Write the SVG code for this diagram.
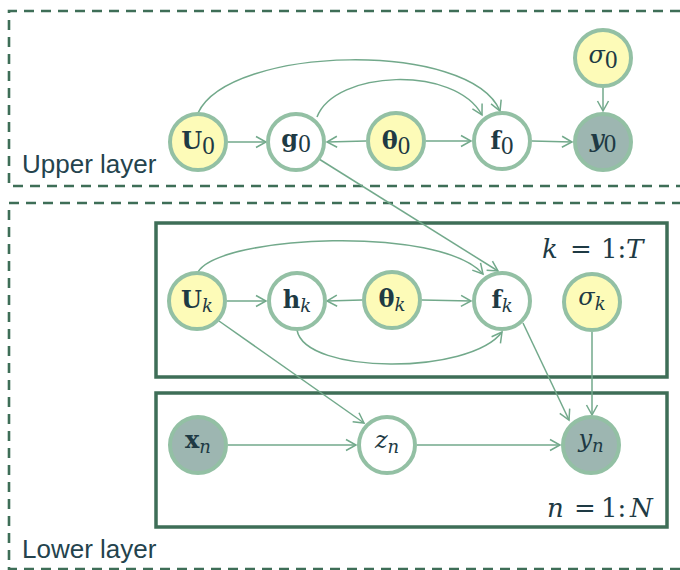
<svg xmlns="http://www.w3.org/2000/svg" width="680" height="570" viewBox="0 0 680 570">
  <defs>
    <marker id="arr" markerUnits="userSpaceOnUse" markerWidth="16" markerHeight="16" viewBox="-12 -8 14 16" refX="0" refY="0" orient="auto">
      <path d="M-10,-5.5 L0,0 L-10,5.5" fill="none" stroke="#72a98b" stroke-width="1.5"/>
    </marker>
  </defs>
  <style>
    .layer { fill: none; stroke: #3e6e57; stroke-width: 2.6; stroke-dasharray: 10 7; }
    .plate { fill: none; stroke: #3e6e57; stroke-width: 3.5; }
    .node { stroke: #93c0a4; stroke-width: 4; }
    .obs { fill: #9db6b1; }
    .prm { fill: #fdfbb8; }
    .lat { fill: #ffffff; }
    .edge { fill: none; stroke: #72a98b; stroke-width: 1.5; marker-end: url(#arr); }
    .lbl { font-family: "DejaVu Serif", "Liberation Serif", serif; font-size: 24px; fill: #1e3a44; text-anchor: middle; }
    .b { font-weight: bold; }
    .i { font-style: italic; }
    .sub { font-size: 18px; font-weight: normal; }
    .d { font-family: "Liberation Serif", serif; font-size: 25px; font-weight: normal; }
    .cap { font-family: "Liberation Sans", Arial, sans-serif; font-size: 26px; fill: #24434d; }
    .rng { font-family: "DejaVu Serif", "Liberation Serif", serif; font-size: 26px; fill: #1e3a44; }
  </style>

  <!-- layer frames -->
  <path class="layer" d="M680,11 H9 V186 H680"/>
  <path class="layer" d="M680,569 H9 V203 H680"/>
  <text class="cap" x="22" y="173">Upper layer</text>
  <text class="cap" x="22" y="558">Lower layer</text>

  <!-- plates -->
  <rect class="plate" x="156" y="223" width="511" height="154"/>
  <rect class="plate" x="156" y="393" width="511" height="134"/>
  <text class="rng" y="258"><tspan class="i" x="542">k</tspan><tspan x="570">=</tspan><tspan x="601">1:</tspan><tspan class="i" x="626">T</tspan></text>
  <text class="rng" y="517"><tspan class="i" x="547">n</tspan><tspan x="574">=</tspan><tspan x="601">1:</tspan><tspan class="i" x="630">N</tspan></text>

  <!-- connectors -->
  <g id="edges">
    <path class="edge" d="M228,142 L266,142"/>
    <path class="edge" d="M366,141 L327,142"/>
    <path class="edge" d="M426,141 L471,141"/>
    <path class="edge" d="M532,141 L572,142"/>
    <path class="edge" d="M603,88 L603,111"/>
    <path class="edge" d="M198,113 C230,45 470,40 500,111"/>
    <path class="edge" d="M317,117 C335,70 455,65 482,115"/>
    <path class="edge" d="M319,159 L498,271"/>
    <path class="edge" d="M227,301 L266,301"/>
    <path class="edge" d="M362,300 L327,301"/>
    <path class="edge" d="M422,300 L471,301"/>
    <path class="edge" d="M198,272 C220,235 440,225 483,274"/>
    <path class="edge" d="M297,330 C305,375 470,375 502,332"/>
    <path class="edge" d="M219,321 L364,423"/>
    <path class="edge" d="M523,323 L569,420"/>
    <path class="edge" d="M592,332 L592,415"/>
    <path class="edge" d="M228,445 L356,445"/>
    <path class="edge" d="M417,445 L560,445"/>
  </g>

  <!-- upper layer nodes -->
  <g id="U0"><circle class="node prm" cx="198" cy="142" r="28"/>
    <text class="lbl" x="198" y="149"><tspan class="b">U</tspan><tspan class="d" dy="5">0</tspan></text></g>
  <g id="g0"><circle class="node lat" cx="296" cy="142" r="28"/>
    <text class="lbl" x="296" y="147"><tspan class="b">g</tspan><tspan class="d" dy="5">0</tspan></text></g>
  <g id="theta0"><circle class="node prm" cx="396" cy="141" r="28"/>
    <text class="lbl" x="396" y="149"><tspan class="b">θ</tspan><tspan class="d" dy="5">0</tspan></text></g>
  <g id="f0"><circle class="node lat" cx="502" cy="141" r="28"/>
    <text class="lbl" x="502" y="149"><tspan class="b">f</tspan><tspan class="d" dy="5">0</tspan></text></g>
  <g id="y0"><circle class="node obs" cx="603" cy="142" r="28"/>
    <text class="lbl" x="603" y="147"><tspan class="b i">y</tspan><tspan class="d" dy="5">0</tspan></text></g>
  <g id="sigma0"><circle class="node prm" cx="603" cy="58" r="28"/>
    <text class="lbl" x="603" y="63"><tspan class="i">σ</tspan><tspan class="d" dy="5">0</tspan></text></g>

  <!-- k plate nodes -->
  <g id="Uk"><circle class="node prm" cx="197" cy="301" r="28"/>
    <text class="lbl" x="197" y="308"><tspan class="b">U</tspan><tspan class="sub i" dy="4">k</tspan></text></g>
  <g id="hk"><circle class="node lat" cx="297" cy="301" r="28"/>
    <text class="lbl" x="297" y="308"><tspan class="b">h</tspan><tspan class="sub i" dy="4">k</tspan></text></g>
  <g id="thetak"><circle class="node prm" cx="392" cy="300" r="28"/>
    <text class="lbl" x="392" y="307"><tspan class="b">θ</tspan><tspan class="sub i" dy="4">k</tspan></text></g>
  <g id="fk"><circle class="node lat" cx="502" cy="301" r="28"/>
    <text class="lbl" x="502" y="308"><tspan class="b">f</tspan><tspan class="sub i" dy="4">k</tspan></text></g>
  <g id="sigmak"><circle class="node prm" cx="592" cy="302" r="28"/>
    <text class="lbl" x="592" y="305"><tspan class="i">σ</tspan><tspan class="sub i" dy="5">k</tspan></text></g>

  <!-- n plate nodes -->
  <g id="xn"><circle class="node obs" cx="198" cy="445" r="28"/>
    <text class="lbl" x="198" y="448"><tspan class="b">x</tspan><tspan class="sub i" dy="5">n</tspan></text></g>
  <g id="zn"><circle class="node lat" cx="387" cy="445" r="28"/>
    <text class="lbl" x="387" y="448"><tspan class="i">z</tspan><tspan class="sub i" dy="5">n</tspan></text></g>
  <g id="yn"><circle class="node obs" cx="591" cy="445" r="28"/>
    <text class="lbl" x="591" y="447"><tspan class="i">y</tspan><tspan class="sub i" dy="5">n</tspan></text></g>
</svg>
